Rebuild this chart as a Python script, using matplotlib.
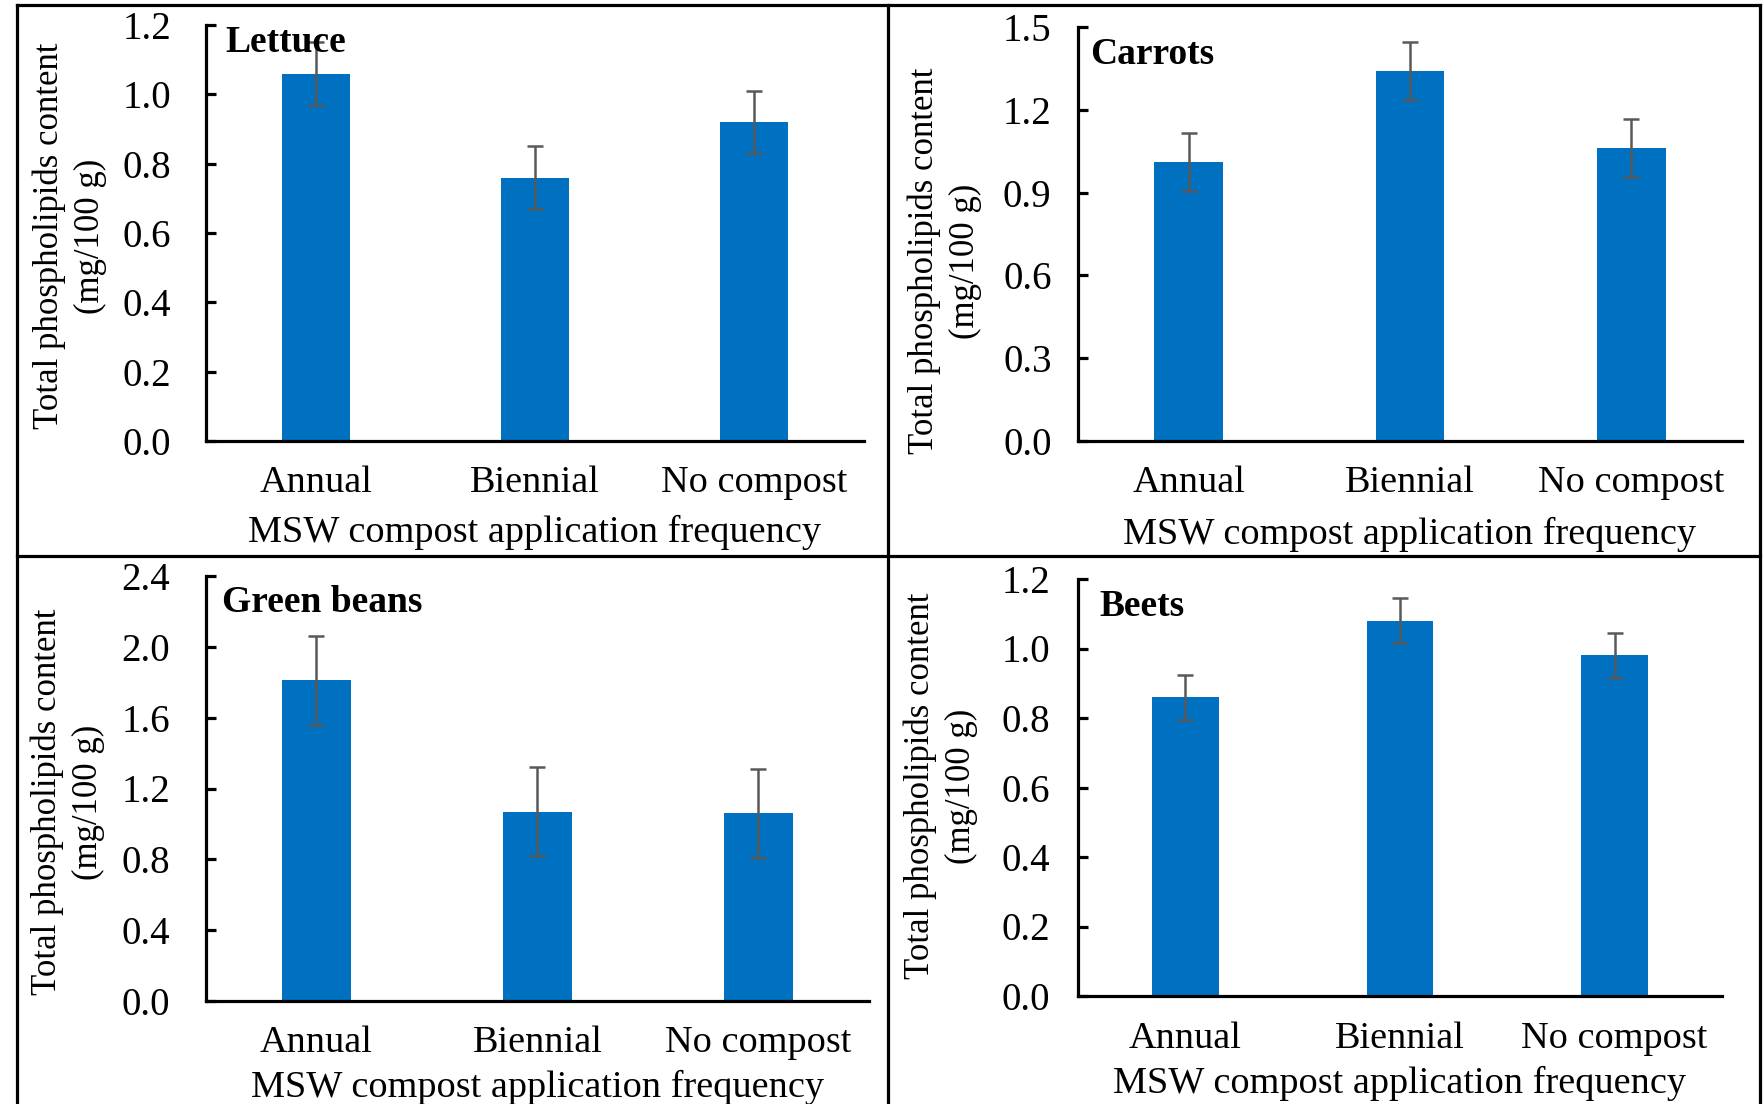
import matplotlib
matplotlib.use("Agg")
import matplotlib.pyplot as plt
from matplotlib.lines import Line2D

# ---- data ----
categories = ["Annual", "Biennial", "No compost"]

lettuce = [1.06, 0.76, 0.92]
lettuce_err = [0.09, 0.09, 0.09]

carrots = [1.01, 1.34, 1.06]
carrots_err = [0.105, 0.105, 0.105]

green_beans = [1.81, 1.07, 1.06]
green_beans_err = [0.25, 0.25, 0.25]

beets = [0.86, 1.08, 0.98]
beets_err = [0.065, 0.065, 0.065]

lettuce_ticks = [0.0, 0.2, 0.4, 0.6, 0.8, 1.0, 1.2]
carrots_ticks = [0.0, 0.3, 0.6, 0.9, 1.2, 1.5]
green_beans_ticks = [0.0, 0.4, 0.8, 1.2, 1.6, 2.0, 2.4]
beets_ticks = [0.0, 0.2, 0.4, 0.6, 0.8, 1.0, 1.2]

ylabel_text = "Total phospholipids content\n(mg/100 g)"
xlabel_text = "MSW compost application frequency"

# ---- style ----
W, H = 1765, 1104
plt.rcParams["font.family"] = ["Liberation Serif", "DejaVu Serif"]
BAR_COLOR = "#0070C0"
ERR_COLOR = "#595959"

fig = plt.figure(figsize=(W / 100, H / 100), dpi=100)


def rect(left, right, top, bottom):
    return [left / W, 1 - bottom / H, (right - left) / W, (bottom - top) / H]


panels = [
    dict(name="Lettuce", vals=lettuce, err=lettuce_err, ticks=lettuce_ticks,
         box=(206, 864, 25, 441), ypad=25, title_xy=(225, 42),
         ylab_xy=(70, 236), xlab_y=532),
    dict(name="Carrots", vals=carrots, err=carrots_err, ticks=carrots_ticks,
         box=(1078, 1742, 27, 441), ypad=19, title_xy=(1090, 54),
         ylab_xy=(945, 261), xlab_y=534),
    dict(name="Green beans", vals=green_beans, err=green_beans_err, ticks=green_beans_ticks,
         box=(206, 869, 576, 1001), ypad=26, title_xy=(222, 602),
         ylab_xy=(68, 802), xlab_y=1087),
    dict(name="Beets", vals=beets, err=beets_err, ticks=beets_ticks,
         box=(1078, 1722, 579, 996), ypad=20, title_xy=(1099, 607),
         ylab_xy=(941, 786), xlab_y=1083),
]

x = list(range(len(categories)))

for p in panels:
    ax = fig.add_axes(rect(*p["box"]))
    ax.bar(x, p["vals"], width=0.31, color=BAR_COLOR, zorder=2)
    ax.errorbar(x, p["vals"], yerr=p["err"], fmt="none", ecolor=ERR_COLOR,
                elinewidth=1.8, capsize=5.5, capthick=1.8, zorder=4)
    ax.set_xlim(-0.5, 2.5)
    ax.set_ylim(p["ticks"][0], p["ticks"][-1])
    ax.set_yticks(p["ticks"])
    ax.set_yticklabels([f"{t:.1f}" for t in p["ticks"]])
    ax.set_xticks(x)
    ax.set_xticklabels(categories)
    for s in ("top", "right"):
        ax.spines[s].set_visible(False)
    for s in ("left", "bottom"):
        ax.spines[s].set_linewidth(2.3)
        ax.spines[s].set_color("black")
    ax.tick_params(axis="y", direction="in", length=7, width=2.3,
                   labelsize=28, pad=p["ypad"], colors="black")
    ax.tick_params(axis="x", length=0, labelsize=27.5, pad=18, colors="black")

    # crop name in the upper-left corner of each panel
    tx, ty = p["title_xy"]
    fig.text(tx / W, 1 - ty / H, p["name"], fontsize=27, fontweight="bold",
             ha="left", va="center", zorder=3)

    # axis titles
    lx, ly = p["ylab_xy"]
    fig.text(lx / W, 1 - ly / H, ylabel_text, rotation=90, fontsize=25,
             ha="center", va="center", multialignment="center", linespacing=1.3)
    cx = (p["box"][0] + p["box"][1]) / 2
    fig.text(cx / W, 1 - p["xlab_y"] / H, xlabel_text, fontsize=27.5,
             ha="center", va="center")

# ---- panel frame lines ----
lw = 2.3
frame = [
    ((17, 17), (5, H)),        # outer left
    ((17, 1760), (5, 5)),      # outer top
    ((1760, 1760), (5, H)),    # outer right
    ((888, 888), (5, H)),      # middle vertical divider
    ((17, 1760), (556, 556)),  # middle horizontal divider
]
for xs, ys in frame:
    fig.add_artist(Line2D([v / W for v in xs], [1 - v / H for v in ys],
                          color="black", linewidth=lw))

fig.savefig("out.png", dpi=100, facecolor="white")
